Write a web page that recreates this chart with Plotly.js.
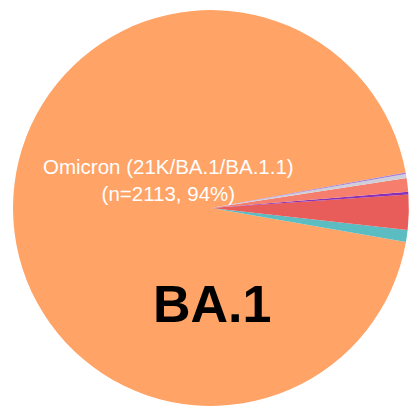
<!DOCTYPE html>
<html>
<head>
<meta charset="utf-8">
<script src="https://cdn.plot.ly/plotly-3.0.1.min.js"></script>
<style>html,body{margin:0;padding:0;background:#fff;}#chart{width:413px;height:406px;}</style>
</head>
<body>
<div id="chart"></div>
<script>
const labels = ["Omicron (21K/BA.1/BA.1.1)", "Other A", "Other B", "Other C", "Other D", "Other E", "Other F"];
const values = [2113, 22, 64, 5, 25, 7, 3];
const colors = ["#FFA366", "#5BBCC2", "#E85C5A", "#8A2FB8", "#F57F6C", "#CFCFDA", "#A883D6"];
const mainLabelLine1 = "Omicron (21K/BA.1/BA.1.1)";
const mainLabelLine2 = "(n=2113, 94%)";
const bigLabel = "BA.1";

const data = [{
  type: "pie",
  labels: labels,
  values: values,
  sort: false,
  direction: "counterclockwise",
  rotation: 99.9,
  textinfo: "none",
  hoverinfo: "none",
  marker: {colors: colors, line: {width: 0}},
  domain: {x: [0.0315, 0.99], y: [0, 0.9754]},
  showlegend: false
}];

const layout = {
  width: 413, height: 406,
  margin: {l: 0, r: 0, t: 0, b: 0},
  paper_bgcolor: "#fff",
  showlegend: false,
  annotations: [
    {text: mainLabelLine1 + "<br>" + mainLabelLine2, x: 168/413, y: 1 - 180/406, xref: "paper", yref: "paper",
     xanchor: "center", yanchor: "middle",
     showarrow: false, font: {family: "Liberation Sans, Arial", size: 20.5, color: "#fff"}, align: "center"},
    {text: "<b>" + bigLabel + "</b>", x: 212/413, y: 1 - 304/406, xref: "paper", yref: "paper",
     xanchor: "center", yanchor: "middle",
     showarrow: false, font: {family: "Liberation Sans, Arial", size: 52, color: "#000"}}
  ]
};

Plotly.newPlot("chart", data, layout, {displayModeBar: false, staticPlot: true});
</script>
</body>
</html>
